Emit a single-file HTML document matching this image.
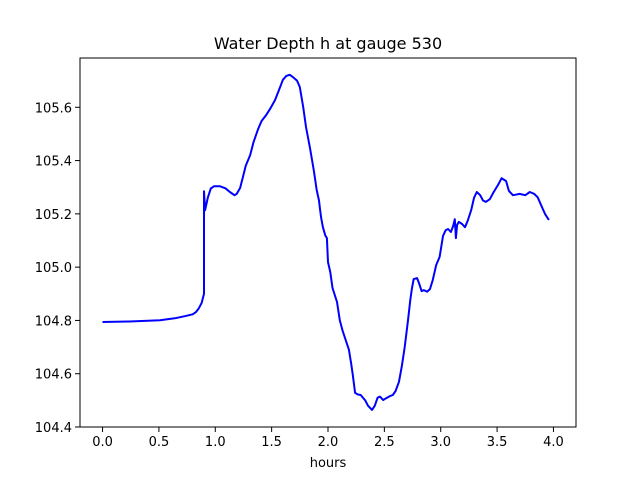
<!DOCTYPE html>
<html><head><meta charset="utf-8"><style>
body{margin:0;background:#fff}
svg text{font-family:"DejaVu Sans","Liberation Sans",sans-serif;fill:#000}
</style></head><body>
<svg id="chart" width="640" height="480">
<rect width="640" height="480" fill="#fff"/>
<text x="328" y="49" font-size="16" text-anchor="middle">Water Depth h at gauge 530</text>
<g id="plot"></g>
<rect x="80" y="58" width="496" height="369" fill="none" stroke="#000" stroke-width="1"/>
<text x="328" y="467" font-size="13" text-anchor="middle">hours</text>
</svg>
<script>
const times=[0,0.24,0.51,0.64,0.73,0.80,0.83,0.855,0.88,0.90,0.90,0.91,0.935,0.96,0.99,1.04,1.09,1.13,1.17,1.19,1.22,1.245,1.27,1.31,1.34,1.38,1.41,1.45,1.485,1.53,1.565,1.60,1.63,1.66,1.69,1.725,1.75,1.78,1.805,1.84,1.875,1.90,1.92,1.93,1.94,1.955,1.975,1.99,2.0,2.02,2.04,2.08,2.105,2.13,2.16,2.185,2.205,2.22,2.24,2.265,2.29,2.33,2.355,2.39,2.415,2.44,2.46,2.49,2.515,2.55,2.575,2.60,2.63,2.656,2.68,2.71,2.73,2.745,2.76,2.79,2.81,2.83,2.85,2.88,2.905,2.93,2.96,2.99,3.02,3.04,3.045,3.065,3.09,3.11,3.125,3.135,3.145,3.16,3.19,3.215,3.24,3.27,3.295,3.32,3.35,3.375,3.40,3.435,3.47,3.51,3.54,3.58,3.605,3.64,3.665,3.70,3.75,3.79,3.83,3.86,3.89,3.925,3.96,3.995];
const depths=[104.794,104.796,104.801,104.808,104.816,104.823,104.832,104.846,104.866,104.900,105.285,105.214,105.262,105.295,105.304,105.304,105.296,105.282,105.270,105.275,105.297,105.338,105.380,105.421,105.470,105.518,105.548,105.570,105.593,105.627,105.665,105.703,105.718,105.722,105.713,105.700,105.676,105.601,105.526,105.447,105.361,105.289,105.250,105.215,105.184,105.150,105.120,105.109,105.019,104.981,104.922,104.869,104.801,104.760,104.723,104.690,104.640,104.595,104.528,104.522,104.520,104.500,104.480,104.464,104.480,104.510,104.514,104.501,104.508,104.516,104.520,104.535,104.570,104.630,104.700,104.800,104.877,104.922,104.955,104.959,104.937,104.910,104.914,104.908,104.918,104.952,105.008,105.038,105.117,105.135,105.139,105.143,105.132,105.154,105.180,105.109,105.158,105.170,105.162,105.150,105.175,105.214,105.260,105.282,105.270,105.250,105.245,105.255,105.282,105.310,105.334,105.323,105.286,105.270,105.272,105.275,105.270,105.282,105.275,105.262,105.233,105.200,105.177];
const xTicks=[0,0.5,1,1.5,2,2.5,3,3.5,4];
const xTickLabels=["0.0","0.5","1.0","1.5","2.0","2.5","3.0","3.5","4.0"];
const yTicks=[104.4,104.6,104.8,105.0,105.2,105.4,105.6];
const yTickLabels=["104.4","104.6","104.8","105.0","105.2","105.4","105.6"];
const NS="http://www.w3.org/2000/svg";
const X0=80,X1=576,Y0=58,Y1=427,xmin=-0.2,xmax=4.2,ymin=104.4,ymax=105.785;
const sx=v=>X0+(v-xmin)/(xmax-xmin)*(X1-X0);
const sy=v=>Y1-(v-ymin)/(ymax-ymin)*(Y1-Y0);
const g=document.getElementById('plot');
function mk(t,a){const e=document.createElementNS(NS,t);for(const k in a)e.setAttribute(k,a[k]);g.appendChild(e);return e;}
xTicks.forEach((v,i)=>{
 const l=mk('line',{x1:sx(v),x2:sx(v),y1:Y1,y2:Y1+5,stroke:'#000'});
 
 
 const t=mk('text',{x:sx(v),y:Y1+19,'font-size':13,'text-anchor':'middle'});
 t.textContent=xTickLabels[i];
 
 
});
yTicks.forEach((v,i)=>{
 const l=mk('line',{x1:X0-5,x2:X0,y1:sy(v),y2:sy(v),stroke:'#000'});
 
 
 const t=mk('text',{x:X0-8,y:sy(v)+5,'font-size':13,'text-anchor':'end'});
 t.textContent=yTickLabels[i];
 
 
});
const p=mk('path',{d:times.map((t,i)=>(i?'L':'M')+sx(t).toFixed(1)+' '+sy(depths[i]).toFixed(1)).join(''),fill:'none',stroke:'#0000ff','stroke-width':2,'stroke-linejoin':'round'});


</script>
</body></html>
